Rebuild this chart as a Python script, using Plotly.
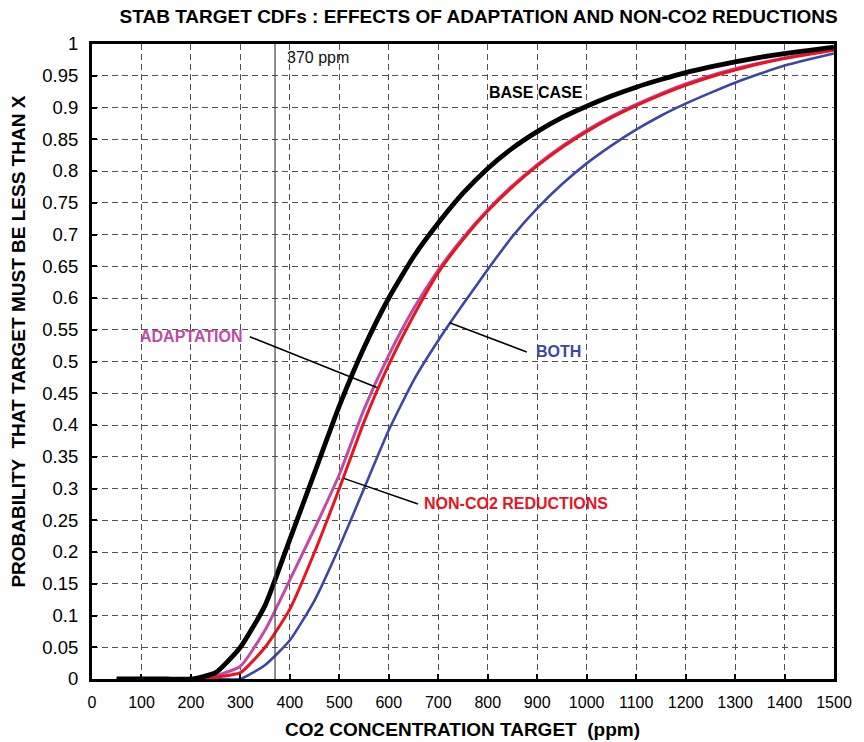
import plotly.graph_objects as go

# CO2 concentration targets (ppm)
ppm = [50, 100, 150, 200, 250, 300, 350, 400, 450, 500, 550, 600, 650, 700, 750,
       800, 850, 900, 950, 1000, 1050, 1100, 1150, 1200, 1250, 1300, 1350, 1400,
       1450, 1500]

# Cumulative probability that the target must be below x
base_case = [0, 0, 0, 0, 0.01, 0.05, 0.116, 0.22, 0.325, 0.43, 0.522, 0.60, 0.665,
             0.718, 0.765, 0.804, 0.836, 0.862, 0.884, 0.902, 0.918, 0.932, 0.944,
             0.955, 0.964, 0.972, 0.979, 0.985, 0.99, 0.995]
adaptation = [0, 0, 0, 0, 0.005, 0.02, 0.077, 0.156, 0.237, 0.322, 0.425, 0.51, 0.583,
              0.644, 0.695, 0.739, 0.777, 0.81, 0.839, 0.864, 0.886, 0.905, 0.922,
              0.937, 0.95, 0.961, 0.97, 0.978, 0.985, 0.991]
non_co2 = [0, 0, 0, 0, 0.003, 0.01, 0.05, 0.11, 0.20, 0.30, 0.405, 0.495, 0.572,
           0.64, 0.692, 0.737, 0.775, 0.808, 0.837, 0.862, 0.884, 0.903, 0.92,
           0.935, 0.948, 0.959, 0.969, 0.977, 0.984, 0.99]
both = [0, 0, 0, 0, 0, 0, 0.022, 0.061, 0.124, 0.208, 0.30, 0.392, 0.47, 0.533,
        0.59, 0.645, 0.697, 0.741, 0.779, 0.812, 0.84, 0.865, 0.887, 0.906, 0.923,
        0.939, 0.953, 0.966, 0.976, 0.985]

x_ticks = list(range(0, 1501, 100))
y_ticks = [round(i * 0.05, 2) for i in range(21)]
y_tick_text = [("%g" % v) for v in y_ticks]

reference_ppm = 370

FONT = "Liberation Sans, Arial, sans-serif"
MAGENTA = "#c04aa6"
RED = "#e8141e"
BLUE = "#3d47a3"

fig = go.Figure()

def curve(values, name, color, width):
    return go.Scatter(x=ppm, y=values, mode="lines", name=name,
                      line=dict(color=color, width=width, shape="spline", smoothing=0.5))

fig.add_trace(curve(adaptation, "ADAPTATION", MAGENTA, 3))
fig.add_trace(curve(both, "BOTH", BLUE, 2.6))
fig.add_trace(curve(non_co2, "NON-CO2 REDUCTIONS", RED, 3))
fig.add_trace(curve(base_case, "BASE CASE", "black", 4.8))

# present-day concentration marker
fig.add_shape(type="line", x0=reference_ppm, x1=reference_ppm, y0=0, y1=1,
              xref="x", yref="y", line=dict(color="#444444", width=1.2))

# leader lines from labels to curves
leaders = [
    (319, 0.539, 576, 0.459),
    (723, 0.561, 879, 0.515),
    (509, 0.316, 659, 0.2756),
]
for x0, y0, x1, y1 in leaders:
    fig.add_shape(type="line", x0=x0, y0=y0, x1=x1, y1=y1, xref="x", yref="y",
                  line=dict(color="black", width=1.5))

labels = [
    ("370 ppm", 390, 0.978, "#111111", False, "left"),
    ("BASE CASE", 898, 0.923, "black", True, "center"),
    ("ADAPTATION", 202, 0.54, MAGENTA, True, "center"),
    ("BOTH", 944, 0.516, BLUE, True, "center"),
    ("NON-CO2 REDUCTIONS", 857, 0.276, RED, True, "center"),
]
for text, x, y, color, bold, anchor in labels:
    fig.add_annotation(x=x, y=y, xref="x", yref="y", text=text, showarrow=False,
                       xanchor=anchor, yanchor="middle",
                       font=dict(family=FONT, size=16, color=color,
                                 weight="bold" if bold else "normal"))

# axis titles
fig.add_annotation(x=0.499, y=-0.0803, xref="paper", yref="paper",
                   text="CO2 CONCENTRATION TARGET  (ppm)", showarrow=False,
                   xanchor="center", yanchor="middle",
                   font=dict(family=FONT, size=19, color="black", weight="bold"))
fig.add_annotation(x=-0.0987, y=0.531, xref="paper", yref="paper",
                   text="PROBABILITY  THAT TARGET MUST BE LESS THAN X", showarrow=False,
                   textangle=-90, xanchor="center", yanchor="middle",
                   font=dict(family=FONT, size=19, color="black", weight="bold"))

axis_common = dict(
    showline=True, linecolor="black", linewidth=3, mirror=True,
    showgrid=True, gridcolor="#505050", gridwidth=1, griddash="6px,4px",
    ticks="inside", ticklen=5, tickwidth=2, tickcolor="black",
    zeroline=False,
)

fig.update_xaxes(range=[0, 1500], tickvals=x_ticks, ticklabelstandoff=7,
                 tickfont=dict(family=FONT, size=16, color="black"),
                 **axis_common)
fig.update_yaxes(range=[0, 1], tickvals=y_ticks, ticktext=y_tick_text,
                 ticklabelstandoff=7,
                 tickfont=dict(family=FONT, size=18.5, color="black"),
                 **axis_common)

fig.update_layout(
    width=864, height=742,
    margin=dict(l=92, r=22, t=44, b=63),
    paper_bgcolor="white", plot_bgcolor="white",
    showlegend=False,
    title=dict(text="STAB TARGET CDFs : EFFECTS OF ADAPTATION AND NON-CO2 REDUCTIONS",
               x=0.554, xanchor="center", y=0.978, yanchor="middle",
               font=dict(family=FONT, size=19, color="black", weight="bold")),
)

fig.write_html("out.html")
